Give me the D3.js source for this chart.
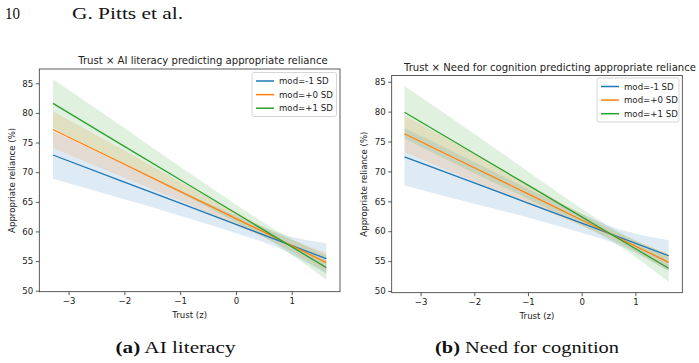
<!DOCTYPE html>
<html><head><meta charset="utf-8">
<script src="https://cdn.jsdelivr.net/npm/d3@7/dist/d3.min.js"></script>
<style>
body{margin:0;background:#fff;}
svg{display:block;}
</style></head>
<body>
<svg id="fig" width="699" height="363"></svg>
<script>
// ---------------- data ----------------
const seriesNames = ["mod=-1 SD", "mod=+0 SD", "mod=+1 SD"];
const xTicks = [-3, -2, -1, 0, 1];
const yTicks = [50, 55, 60, 65, 70, 75, 80, 85];

// Panel (a): Trust x AI literacy
const trustA = [-3.28, -2, -1, 0, 0.8, 1.62];
const aLow  = [72.9, 68.33, 64.76, 61.19, 58.33, 55.4];   // mod=-1 SD
const aMid  = [77.2, 71.34, 66.76, 62.17, 58.51, 54.75];  // mod=+0 SD
const aHigh = [81.6, 74.36, 68.71, 63.06, 58.54, 53.9];   // mod=+1 SD
const aLowCI  = [4.0, 2.9, 2.1, 1.5, 1.3, 2.6];
const aMidCI  = [3.1, 2.3, 1.6, 1.1, 0.9, 1.7];
const aHighCI = [4.1, 3.1, 2.2, 1.5, 1.2, 2.1];

// Panel (b): Trust x Need for cognition
const trustB = [-3.30, -2, -1, 0, 0.5, 1.62];
const bLow  = [72.45, 68.08, 64.71, 61.35, 59.67, 55.9];
const bMid  = [76.3, 70.62, 66.25, 61.88, 59.70, 54.8];
const bHigh = [79.9, 73.0, 67.7, 62.39, 59.74, 53.8];
const bLowCI  = [4.8, 3.5, 2.4, 1.6, 1.3, 2.6];
const bMidCI  = [3.1, 2.3, 1.6, 1.0, 0.8, 1.4];
const bHighCI = [4.4, 3.3, 2.3, 1.4, 1.1, 2.3];

const titles = ["Trust \u00d7 AI literacy predicting appropriate reliance",
                "Trust \u00d7 Need for cognition predicting appropriate reliance"];
const colors = ["#1f77b4", "#ff7f0e", "#2ca02c"];

// ---------------- drawing ----------------
const svg = d3.select("#fig");
const sans = "'DejaVu Sans', sans-serif";
const serif = "'Liberation Serif', 'DejaVu Serif', serif";
const fs = 8.6;

// page header
svg.append("text").attr("x", 5).attr("y", 19).attr("font-family", serif)
  .attr("font-size", 16).attr("fill", "#111")
  .attr("textLength", 15).attr("lengthAdjust", "spacingAndGlyphs").text("10");
svg.append("text").attr("x", 72).attr("y", 19).attr("font-family", serif)
  .attr("font-size", 16).attr("fill", "#111")
  .attr("textLength", 111).attr("lengthAdjust", "spacingAndGlyphs").text("G. Pitts et al.");

function fmt(d){ return d < 0 ? "\u2212" + Math.abs(d) : String(d); }

function panel(cfg){
  const x = d3.scaleLinear().domain(cfg.xd).range([cfg.left, cfg.right]);
  const y = d3.scaleLinear().domain(cfg.yd).range([cfg.bottom, cfg.top]);
  const g = svg.append("g");
  const clipId = "clip" + cfg.id;
  g.append("clipPath").attr("id", clipId).append("rect")
    .attr("x", cfg.left).attr("y", cfg.top)
    .attr("width", cfg.right - cfg.left).attr("height", cfg.bottom - cfg.top);
  const plot = g.append("g").attr("clip-path", `url(#${clipId})`);

  cfg.series.forEach((s, i) => {
    const pts = cfg.xs.map((xv, k) => ({x: xv, y: s.v[k], h: s.ci[k]}));
    const area = d3.area().x(d => x(d.x)).y0(d => y(d.y - d.h)).y1(d => y(d.y + d.h))
      .curve(d3.curveMonotoneX);
    plot.append("path").datum(pts).attr("d", area)
      .attr("fill", colors[i]).attr("fill-opacity", 0.15).attr("stroke", "none");
  });
  cfg.series.forEach((s, i) => {
    const pts = cfg.xs.map((xv, k) => ({x: xv, y: s.v[k]}));
    const line = d3.line().x(d => x(d.x)).y(d => y(d.y));
    plot.append("path").datum(pts).attr("d", line)
      .attr("fill", "none").attr("stroke", colors[i]).attr("stroke-width", 1.3);
  });

  // axes
  const ax = g.append("g").attr("transform", `translate(0,${cfg.bottom})`)
    .call(d3.axisBottom(x).tickValues(xTicks).tickFormat(fmt).tickSize(3.5).tickPadding(2.5));
  const ay = g.append("g").attr("transform", `translate(${cfg.left},0)`)
    .call(d3.axisLeft(y).tickValues(yTicks).tickFormat(fmt).tickSize(3.5).tickPadding(2.5));
  [ax, ay].forEach(a => {
    a.select(".domain").remove();
    a.selectAll("line").attr("stroke", "#333").attr("stroke-width", 0.8);
    a.selectAll("text").attr("font-family", sans).attr("font-size", fs).attr("fill", "#222");
  });
  // frame
  g.append("rect").attr("x", cfg.left).attr("y", cfg.top)
    .attr("width", cfg.right - cfg.left).attr("height", cfg.bottom - cfg.top)
    .attr("fill", "none").attr("stroke", "#333").attr("stroke-width", 0.8);

  // title & labels
  g.append("text").attr("x", cfg.titleX).attr("y", cfg.titleY).attr("text-anchor", "middle")
    .attr("font-family", sans).attr("font-size", 10.1).attr("fill", "#222").text(cfg.title);
  g.append("text").attr("x", (cfg.left + cfg.right) / 2).attr("y", cfg.bottom + 26)
    .attr("text-anchor", "middle").attr("font-family", sans).attr("font-size", fs)
    .attr("fill", "#222").text("Trust (z)");
  g.append("text").attr("transform", `translate(${cfg.ylabX},${(cfg.top + cfg.bottom) / 2}) rotate(-90)`)
    .attr("text-anchor", "middle").attr("font-family", sans).attr("font-size", fs)
    .attr("fill", "#222").text("Appropriate reliance (%)");

  // legend
  const lg = g.append("g");
  lg.append("rect").attr("x", cfg.legX).attr("y", cfg.legY).attr("width", cfg.legW).attr("height", 44)
    .attr("rx", 2).attr("fill", "#fff").attr("fill-opacity", 0.8)
    .attr("stroke", "#ccc").attr("stroke-width", 0.8);
  seriesNames.forEach((n, i) => {
    const yy = cfg.legY + 8.5 + i * 13.6;
    lg.append("line").attr("x1", cfg.legX + 4).attr("x2", cfg.legX + 22)
      .attr("y1", yy).attr("y2", yy).attr("stroke", colors[i]).attr("stroke-width", 1.5);
    lg.append("text").attr("x", cfg.legX + 27).attr("y", yy + 3.2)
      .attr("font-family", sans).attr("font-size", fs).attr("fill", "#222").text(n);
  });
}

panel({
  id: "a", xs: trustA,
  series: [{v: aLow, ci: aLowCI}, {v: aMid, ci: aMidCI}, {v: aHigh, ci: aHighCI}],
  xd: [-3.525, 1.865], yd: [49.83, 87.41],
  left: 39.3, right: 340, top: 69, bottom: 291.7,
  title: titles[0], titleX: 203, titleY: 64, ylabX: 15,
  legX: 252, legY: 72.5, legW: 84.5
});
panel({
  id: "b", xs: trustB,
  series: [{v: bLow, ci: bLowCI}, {v: bMid, ci: bMidCI}, {v: bHigh, ci: bHighCI}],
  xd: [-3.538, 1.874], yd: [49.72, 86.04],
  left: 391.7, right: 682.3, top: 75.5, bottom: 292.7,
  title: titles[1], titleX: 550, titleY: 71, ylabX: 367,
  legX: 597, legY: 78, legW: 82
});

// captions
function caption(cx, w, bold, rest){
  const t = svg.append("text").attr("x", cx - w / 2).attr("y", 353)
    .attr("font-family", serif).attr("font-size", 17).attr("fill", "#111")
    .attr("textLength", w).attr("lengthAdjust", "spacingAndGlyphs");
  t.append("tspan").attr("font-weight", "bold").text(bold);
  t.append("tspan").text(" " + rest);
}
caption(175.5, 120, "(a)", "AI literacy");
caption(527, 184, "(b)", "Need for cognition");
</script>
</body></html>
